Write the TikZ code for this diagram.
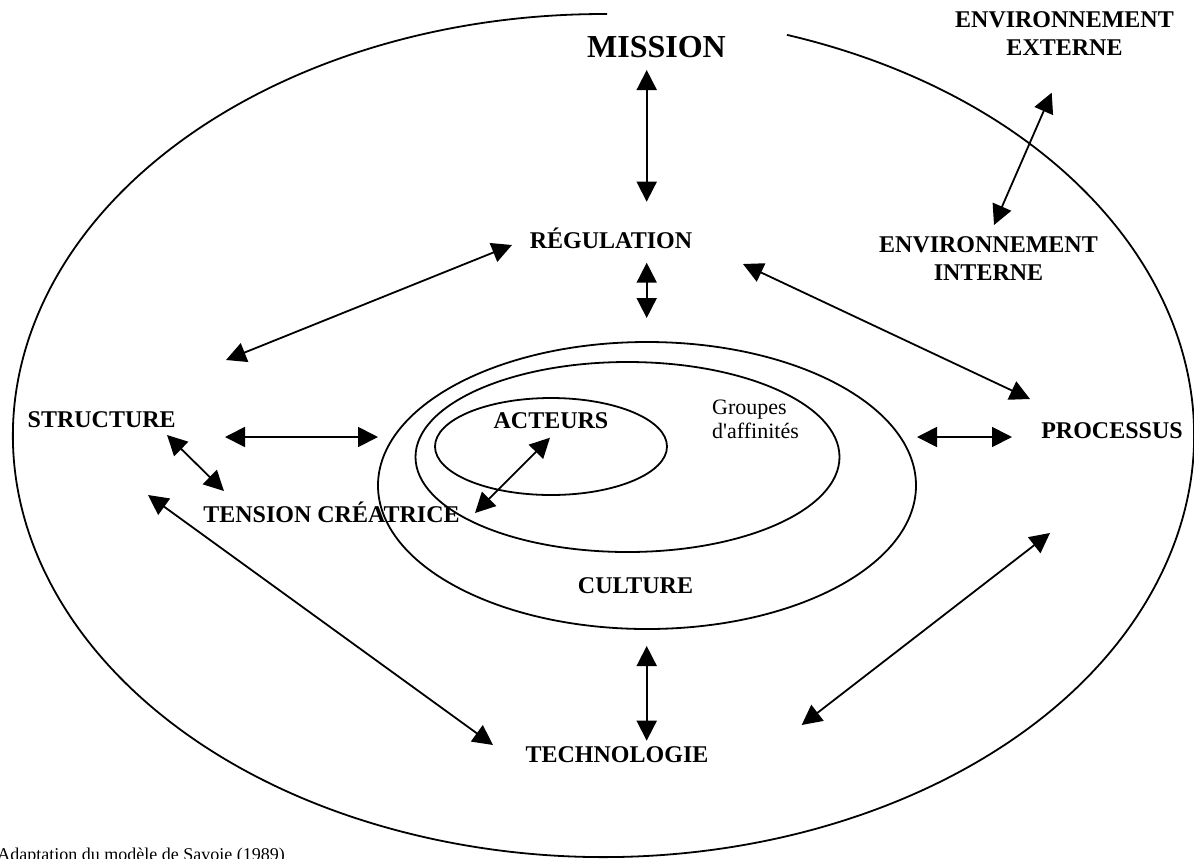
\documentclass[tikz,border=0pt]{standalone}
\usepackage{fontspec}
\setmainfont{Liberation Serif}[Ligatures=TeXOff]
\usetikzlibrary{arrows.meta}
\begin{document}
\begin{tikzpicture}[x=0.5pt,y=-0.5pt,
  lbl/.style={font=\fontsize{12}{14.2}\selectfont\bfseries, inner sep=0pt, anchor=base},
  lbltwo/.style={font=\fontsize{12}{14.2}\selectfont\bfseries, inner sep=0pt, align=center, anchor=center},
  link/.style={line width=0.9pt, {Triangle[length=10pt,width=10pt]}-{Triangle[length=10pt,width=10pt]}},
  ring/.style={line width=0.9pt}]
\useasboundingbox (0,0) rectangle (1194,858);
% outer environment ellipse with gap for MISSION
\draw[ring] (603.5,435.5) ++(-71.9:590.5 and 421.5)
  arc[start angle=-71.9, end angle=270.34, x radius=590.5, y radius=421.5];
% culture ellipses
\draw[ring] (647,485.5) ellipse [x radius=269, y radius=143.5];
\draw[ring] (627.5,457) ellipse [x radius=212, y radius=95];
\draw[ring] (551,446.5) ellipse [x radius=116, y radius=48.5];
% labels
\node[lbl, font=\fontsize{16}{19}\selectfont\bfseries] (mission) at (656.5,57) {MISSION};
\node[lbltwo] (envext) at (1064.5,33.4) {ENVIRONNEMENT\\EXTERNE};
\node[lbltwo] (envint) at (988.5,258.5) {ENVIRONNEMENT\\INTERNE};
\node[lbl] (regul) at (611,248) {RÉGULATION};
\node[lbl] (struct) at (101.7,427) {STRUCTURE};
\node[lbl] (proc) at (1112,438.3) {PROCESSUS};
\node[lbl] (tension) at (331.5,522) {TENSION CRÉATRICE};
\node[lbl] (acteurs) at (551,428.3) {ACTEURS};
\node[lbl] (culture) at (635.5,593.3) {CULTURE};
\node[lbl] (techno) at (617,762.7) {TECHNOLOGIE};
\node[font=\fontsize{11}{12}\selectfont, inner sep=0pt, align=left, anchor=center] (groupes) at (755.5,419.7) {Groupes\\d'affinités};
\node[font=\fontsize{9}{11}\selectfont, inner sep=0pt, anchor=base west] (source) at (-3,860) {Adaptation du modèle de Savoie (1989)};
% arrow end points
\coordinate (mA) at (646.7,70);    \coordinate (rA) at (646.7,201.7);
\coordinate (rB) at (646.7,262.7); \coordinate (cB) at (646.7,318);
\coordinate (rC) at (512,245);     \coordinate (sC) at (226,360);
\coordinate (rD) at (743,264);     \coordinate (pD) at (1030,399);
\coordinate (sE) at (225,437);     \coordinate (cE) at (378,437);
\coordinate (cF) at (917,437);     \coordinate (pF) at (1012,437);
\coordinate (sG) at (167,435);     \coordinate (tG) at (224,491);
\coordinate (aH) at (550,437.7);   \coordinate (tH) at (475,513);
\coordinate (sI) at (148,495);     \coordinate (tI) at (493,745);
\coordinate (cJ) at (646.7,646);   \coordinate (tJ) at (646.7,740.7);
\coordinate (pK) at (1050,533);    \coordinate (tK) at (801.7,725);
\coordinate (eL) at (1051.7,92.7); \coordinate (iL) at (994,225);
% arrows
\draw[link] (mA) -- (rA);
\draw[link] (rB) -- (cB);
\draw[link] (rC) -- (sC);
\draw[link] (rD) -- (pD);
\draw[link] (sE) -- (cE);
\draw[link] (cF) -- (pF);
\draw[link] (sG) -- (tG);
\draw[link] (aH) -- (tH);
\draw[link] (sI) -- (tI);
\draw[link] (cJ) -- (tJ);
\draw[link] (pK) -- (tK);
\draw[link] (eL) -- (iL);
\end{tikzpicture}
\end{document}
